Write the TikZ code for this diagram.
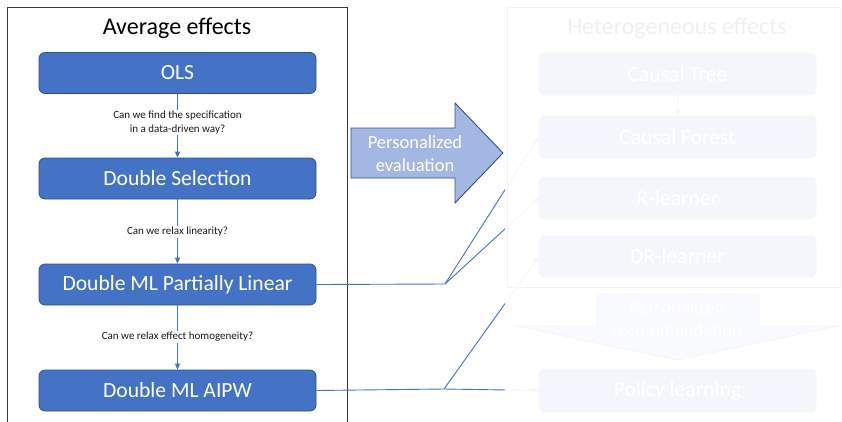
\documentclass[tikz,border=0pt]{standalone}
\usepackage{fontspec}
\setmainfont{Carlito}
\usetikzlibrary{arrows.meta}
\definecolor{boxblue}{HTML}{4472C4}
\definecolor{boxedge}{HTML}{2F528F}
\definecolor{arrowfill}{HTML}{A2B7E1}
\definecolor{qtext}{HTML}{1A1A1A}
\definecolor{framegray}{HTML}{3A3A3A}
\tikzset{
  method/.style={draw=boxedge, line width=0.8pt, fill=boxblue, rounded corners=6pt,
    minimum width=277pt, minimum height=41pt, inner sep=0pt, text=white, font=\fontsize{21.6}{25}\selectfont},
  question/.style={fill=white, inner sep=1pt, align=center, text=qtext, font=\fontsize{11}{13.2}\selectfont},
  title/.style={font=\fontsize{24}{28}\selectfont, inner sep=0pt},
  frame/.style={draw=framegray, line width=0.9pt},
  conn/.style={draw=boxblue, line width=0.9pt},
  tip/.style={-{Triangle[length=6pt,width=5pt]}},
  bigarrow/.style={fill=arrowfill, draw=boxedge, line width=0.9pt},
  arrowtext/.style={text=white, align=center, font=\fontsize{18.5}{23}\selectfont, inner sep=0pt}
}
\begin{document}
\begin{tikzpicture}[x=1pt, y=-1pt]
\useasboundingbox (0,0) rectangle (842,421);
\fill[white] (0,0) rectangle (842,421);
% left frame
\draw[frame] (7,440) -- (7,7) -- (347,7) -- (347,440);
\node[title] (avgtitle) at (177,28) {Average effects};
% left boxes
\node[method] (ols) at (177.5,73) {OLS};
\node[method] (ds) at (177.5,178.5) {Double Selection};
\node[method] (dmlpl) at (177.5,284.5) {Double ML Partially Linear};
\node[method] (aipw) at (177.5,390.5) {Double ML AIPW};
% vertical connectors with questions
\draw[conn, tip] (ols) -- (ds);
\node[question] (q1) at (177.5,122.5) {Can we find the specification\\in a data-driven way?};
\draw[conn, tip] (ds) -- (dmlpl);
\node[question] (q2) at (177.5,232) {Can we relax linearity?};
\draw[conn, tip] (dmlpl) -- (aipw);
\node[question] (q3) at (177.5,337) {Can we relax effect homogeneity?};
% big arrow
\path[bigarrow] (351,128) -- (455,128) -- (455,103) -- (503,153) -- (455,203) -- (455,178) -- (351,178) -- cycle;
\node[arrowtext] (pe) at (415,154) {Personalized\\evaluation};
% right frame
\draw[frame] (507,287) -- (507,7) -- (840,7) -- (840,287) -- cycle;
\node[title] (hettitle) at (677,28) {Heterogeneous effects};
\node[method, minimum height=42pt] (ct) at (677.5,74) {Causal Tree};
\node[method, minimum height=42pt] (cf) at (677.5,137) {Causal Forest};
\node[method, minimum height=42pt] (rl) at (677.5,198) {R-learner};
\node[method, minimum height=41pt] (drl) at (677.5,256.5) {DR-learner};
\node[method, minimum height=43pt] (pol) at (677.5,390.5) {Policy learning};
\draw[conn, tip] (ct) -- (cf);
% down arrow
\path[bigarrow] (597,294) -- (759,294) -- (759,326) -- (838,326) -- (677,360) -- (517,326) -- (597,326) -- cycle;
\node[arrowtext] (pr) at (677,319) {Personalized\\recommendation};
% connectors
\coordinate (b1) at (445,284);
\coordinate (b2) at (444,389);
\draw[conn] (dmlpl.east) -- (b1);
\draw[conn, tip] (b1) -- (cf.west);
\draw[conn, tip] (b1) -- (rl.west);
\draw[conn] (aipw.east) -- (b2);
\draw[conn, tip] (b2) -- (drl.west);
\draw[conn, tip] (b2) -- (pol.west);
% fade overlay
\fill[white, opacity=0.94] (505,0) rectangle (842,421);
\end{tikzpicture}
\end{document}
